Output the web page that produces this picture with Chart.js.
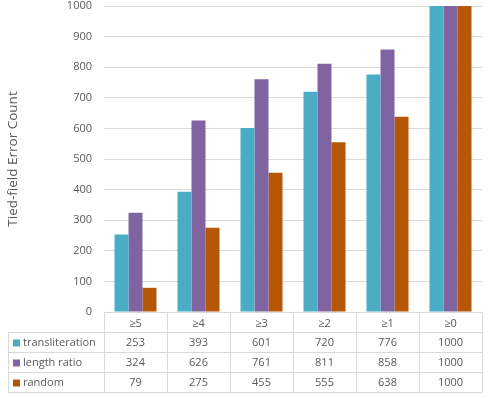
<!DOCTYPE html>
<html>
<head>
<meta charset="utf-8">
<script src="https://cdn.jsdelivr.net/npm/chart.js@4"></script>
<style>
    html, body { margin: 0; padding: 0; background: #fff; }
    #wrap { width: 488px; height: 398px; position: relative; }
</style>
</head>
<body>
<div id="wrap"><canvas id="chart"></canvas></div>
<script>
const categories = ['≥5', '≥4', '≥3', '≥2', '≥1', '≥0'];
const transliteration = [253, 393, 601, 720, 776, 1000];
const lengthRatio = [324, 626, 761, 811, 858, 1000];
const random = [79, 275, 455, 555, 638, 1000];
const yTicks = [0, 100, 200, 300, 400, 500, 600, 700, 800, 900, 1000];

const textColor = '#595959';
const lineColor = '#D9D9D9';
const font = '"Open Sans", "Noto Sans", sans-serif';

// Excel-style data table under the plot, aligned to the x scale
const dataTable = {
    id: 'dataTable',
    afterDraw(chart) {
        const ctx = chart.ctx;
        const x = chart.scales.x;
        const area = chart.chartArea;
        const colW = (area.right - area.left) / categories.length;
        const top = area.bottom + 1;
        const rowH = [19, 20, 20, 20];
        const rowsY = [top];
        rowH.forEach(h => rowsY.push(rowsY[rowsY.length - 1] + h));
        const legendLeft = 8;

        ctx.save();
        ctx.strokeStyle = lineColor;
        ctx.lineWidth = 1;
        ctx.beginPath();
        // horizontal lines
        for (let r = 1; r < rowsY.length; r++) {
            ctx.moveTo(legendLeft, Math.round(rowsY[r]) + 0.5);
            ctx.lineTo(area.right, Math.round(rowsY[r]) + 0.5);
        }
        // vertical lines
        for (let c = 0; c <= categories.length; c++) {
            const px = Math.round(area.left + c * colW) + 0.5;
            ctx.moveTo(px, top);
            ctx.lineTo(px, rowsY[rowsY.length - 1]);
        }
        ctx.moveTo(legendLeft + 0.5, rowsY[1]);
        ctx.lineTo(legendLeft + 0.5, rowsY[rowsY.length - 1]);
        ctx.stroke();

        ctx.fillStyle = textColor;
        ctx.font = '11px ' + font;
        ctx.textAlign = 'center';
        ctx.textBaseline = 'middle';
        categories.forEach((cat, i) => {
            ctx.fillText(cat, x.getPixelForValue(i), (rowsY[0] + rowsY[1]) / 2 + 1);
        });

        chart.data.datasets.forEach((ds, r) => {
            const cy = (rowsY[r + 1] + rowsY[r + 2]) / 2 + 1;
            ctx.fillStyle = ds.backgroundColor;
            ctx.fillRect(legendLeft + 5, cy - 3.5, 7, 7);
            ctx.fillStyle = textColor;
            ctx.textAlign = 'left';
            ctx.fillText(ds.label, legendLeft + 15, cy);
            ctx.textAlign = 'center';
            ds.data.forEach((v, i) => {
                ctx.fillText(String(v), x.getPixelForValue(i), cy);
            });
        });
        ctx.restore();
    }
};

new Chart(document.getElementById('chart'), {
    type: 'bar',
    data: {
        labels: categories,
        datasets: [
            { label: 'transliteration', data: transliteration, backgroundColor: '#4BACC6' },
            { label: 'length ratio', data: lengthRatio, backgroundColor: '#8064A2' },
            { label: 'random', data: random, backgroundColor: '#B65708' }
        ]
    },
    options: {
        responsive: true,
        maintainAspectRatio: false,
        animation: false,
        layout: { padding: { left: 0, right: 6, top: 6, bottom: 86 } },
        datasets: { bar: { categoryPercentage: 0.667, barPercentage: 1.0 } },
        plugins: { legend: { display: false }, tooltip: { enabled: false } },
        scales: {
            x: {
                display: false
            },
            y: {
                min: 0,
                max: 1000,
                afterFit(scale) {
                    scale.width = 104;
                    scale.paddingTop = 0;
                    scale.paddingBottom = 0;
                },
                afterBuildTicks(scale) { scale.ticks = yTicks.map(v => ({ value: v })); },
                border: { display: false },
                grid: { color: lineColor, drawTicks: false, lineWidth: 1 },
                ticks: {
                    color: textColor,
                    padding: 12,
                    font: { family: font, size: 11 },
                    callback: v => String(v)
                },
                title: {
                    display: true,
                    text: 'Tied-field Error Count',
                    color: textColor,
                    padding: { top: 5, bottom: 0 },
                    font: { family: font, size: 13.5 }
                }
            }
        }
    },
    plugins: [dataTable]
});
</script>
</body>
</html>
